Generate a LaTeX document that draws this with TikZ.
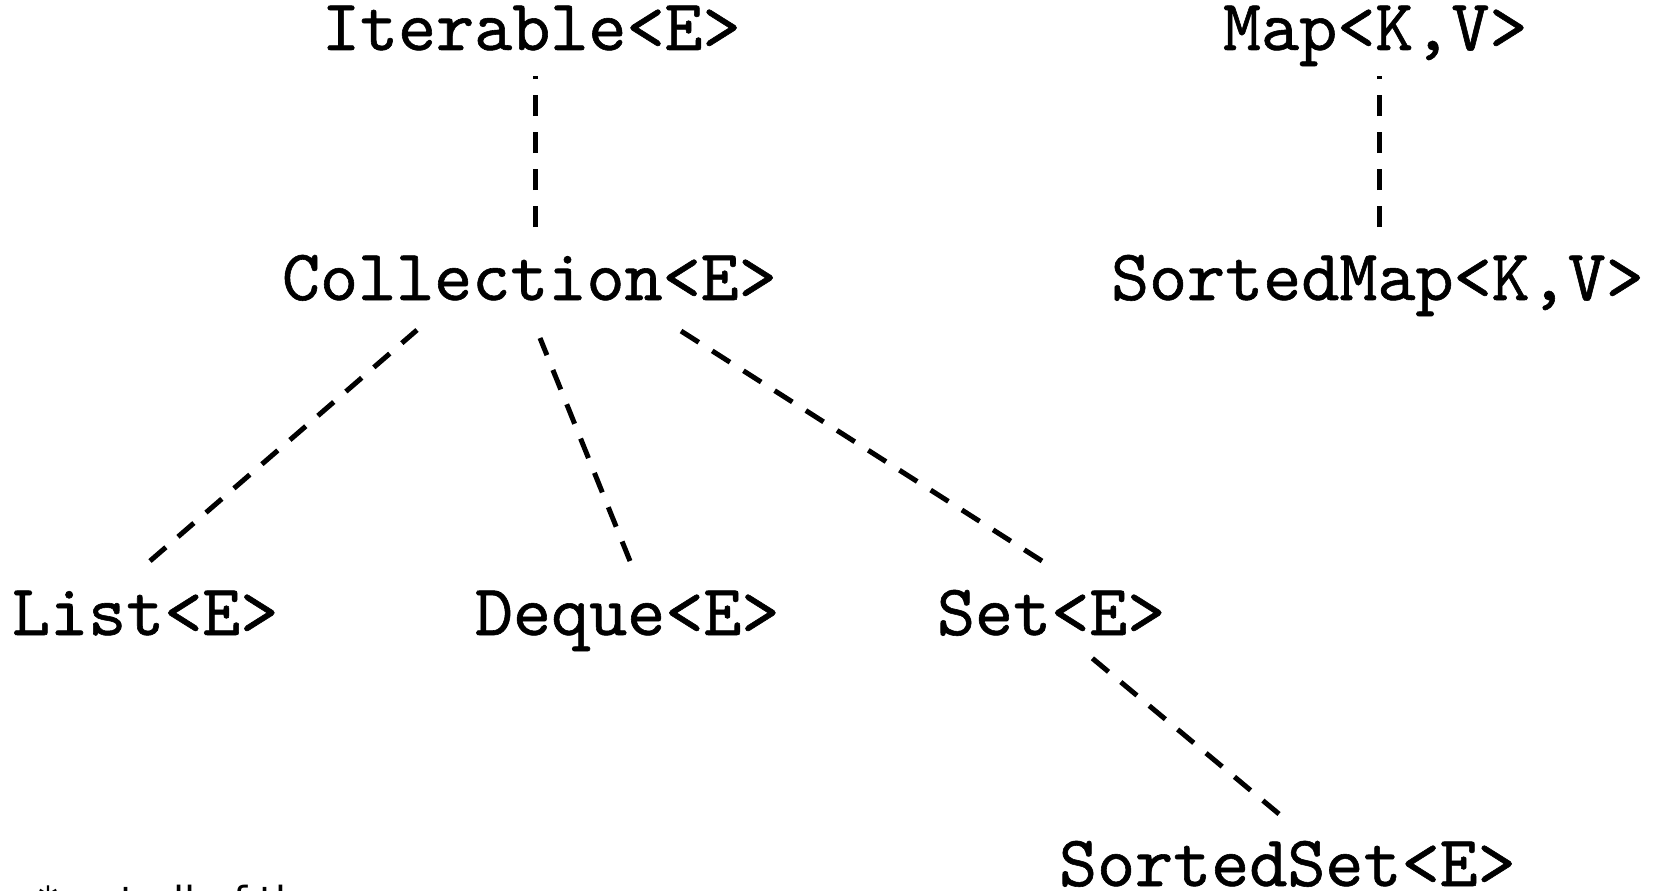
\documentclass[tikz,border=0pt]{standalone}
\usepackage{fontspec}
\newfontfamily\notefont{DejaVu Sans}
\newfontfamily\codefont{lmmono10-regular.otf}[FakeBold=0.8]
\begin{document}
\begin{tikzpicture}[x=1pt,y=-1pt,
  cls/.style={anchor=base west,inner sep=0pt,outer sep=0pt,
    font=\fontsize{72.5}{80}\selectfont\codefont},
  rel/.style={line width=5pt,dash pattern=on 21pt off 16pt},
  note/.style={anchor=base west,inner sep=0pt,font=\fontsize{40}{48}\selectfont\notefont}]
\useasboundingbox (0,0) rectangle (1654,891);
\node[cls] (iter) at (322,50) {Iterable<E>};
\node[cls] (map) at (1223,50) {Map<K,V>};
\node[cls] (coll) at (282,300) {Collection<E>};
\node[cls] (smap) at (1111,300) {SortedMap<K,V>};
\node[cls] (list) at (12,635) {List<E>};
\node[cls] (deque) at (475,635) {Deque<E>};
\node[cls] (set) at (937,635) {Set<E>};
\node[cls] (sset) at (1059,886) {SortedSet<E>};
\node[note] (fn) at (38,915) {* not all of the};
% connector ends
\coordinate (iterB) at (535,76);
\coordinate (collT) at (535,227);
\coordinate (mapB) at (1379,76);
\coordinate (smapT) at (1379,227);
\coordinate (collL) at (417,330);
\coordinate (collM) at (540,338);
\coordinate (collR) at (681,331);
\coordinate (listT) at (150,561);
\coordinate (dequeT) at (630,561);
\coordinate (setT) at (1042,561);
\coordinate (setB) at (1092,658);
\coordinate (ssetT) at (1279,814);
\draw[rel] (collT) -- (iterB);
\draw[rel] (smapT) -- (mapB);
\draw[rel] (listT) -- (collL);
\draw[rel] (dequeT) -- (collM);
\draw[rel] (setT) -- (collR);
\draw[rel] (ssetT) -- (setB);
\end{tikzpicture}
\end{document}
